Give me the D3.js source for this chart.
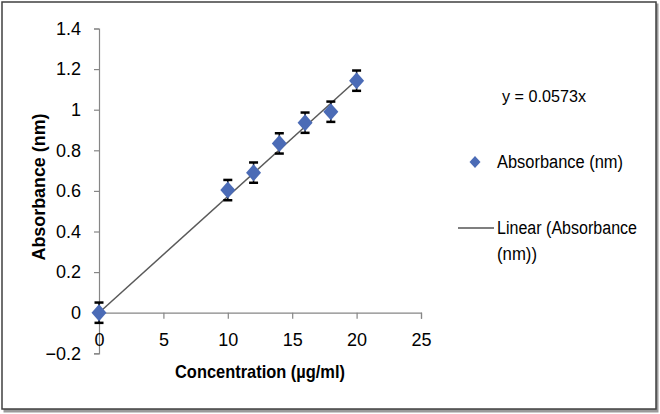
<!DOCTYPE html>
<html><head><meta charset="utf-8">
<script src="https://cdn.jsdelivr.net/npm/d3@7"></script>
<style>
html,body{margin:0;padding:0;background:#fff;}
svg{display:block;font-family:"Liberation Sans Narrow","Arial Narrow","Liberation Sans",sans-serif;}
</style></head>
<body>
<svg id="chart" width="660" height="414"></svg>
<script>
const concentration = [0, 10, 12, 14, 16, 18, 20];
const absorbance = [0, 0.604, 0.69, 0.834, 0.936, 0.99, 1.143];
const errorSize = [0.05, 0.05, 0.05, 0.05, 0.05, 0.05, 0.05];
const slope = 0.0573;
const xTicks = [0, 5, 10, 15, 20, 25];
const yTicks = [-0.2, 0, 0.2, 0.4, 0.6, 0.8, 1, 1.2, 1.4];
const seriesName = "Absorbance (nm)";
const trendName = ["Linear (Absorbance", "(nm))"];
const equation = "y = 0.0573x";
const xTitle = "Concentration (µg/ml)";
const yTitle = "Absorbance (nm)";

const svg = d3.select("#chart");
const x = d3.scaleLinear().domain([0, 25]).range([99, 421]);
const y = d3.scaleLinear().domain([-0.2, 1.4]).range([353.3, 28.5]);
const axisColor = "#868686";
const blue = "#4b6bb6";

// outer frame with shadow
svg.append("rect").attr("x", 3.5).attr("y", 3.5).attr("width", 655).attr("height", 409).attr("fill", "#9a9a9a");
svg.append("rect").attr("x", 2).attr("y", 2).attr("width", 654).attr("height", 407).attr("fill", "#fff").attr("stroke", "#404040").attr("stroke-width", 1.5);

// Y axis
const yAxis = svg.append("g").attr("transform", `translate(${x(0)},0)`)
  .call(d3.axisLeft(y).tickValues(yTicks).tickSize(5).tickPadding(13).tickFormat(d => d3.format("")(+d.toFixed(1))));
yAxis.select(".domain").attr("stroke", axisColor).attr("stroke-width", 1.2);
yAxis.selectAll(".tick line").attr("stroke", axisColor).attr("stroke-width", 1.2);
yAxis.selectAll(".tick text").attr("font-size", 18).attr("fill", "#000").attr("font-family", "inherit");

// X axis at y=0
const xAxis = svg.append("g").attr("transform", `translate(0,${y(0)})`)
  .call(d3.axisBottom(x).tickValues(xTicks).tickSize(6).tickPadding(15).tickSizeOuter(6));
xAxis.select(".domain").attr("stroke", axisColor).attr("stroke-width", 1.2);
xAxis.selectAll(".tick line").attr("stroke", axisColor).attr("stroke-width", 1.2);
xAxis.selectAll(".tick text").attr("font-size", 18).attr("fill", "#000").attr("font-family", "inherit");

// trend line
svg.append("line")
  .attr("x1", x(0)).attr("y1", y(0))
  .attr("x2", x(20)).attr("y2", y(slope * 20))
  .attr("stroke", "#5a5a5a").attr("stroke-width", 1.5);

// error bars
const eb = svg.append("g");
concentration.forEach((c, i) => {
  const top = y(absorbance[i] + errorSize[i]), bot = y(absorbance[i] - errorSize[i]);
  eb.append("line").attr("x1", x(c)).attr("x2", x(c)).attr("y1", top).attr("y2", bot).attr("stroke", "#000").attr("stroke-width", 1.5);
  [top, bot].forEach(v => eb.append("line").attr("x1", x(c) - 4.5).attr("x2", x(c) + 4.5).attr("y1", v).attr("y2", v).attr("stroke", "#000").attr("stroke-width", 2.5));
});

// markers
const diamond = (cx, cy, w, h) => `M${cx},${cy - h}L${cx + w},${cy}L${cx},${cy + h}L${cx - w},${cy}Z`;
svg.append("g").selectAll("path").data(concentration).join("path")
  .attr("d", (c, i) => diamond(x(c), y(absorbance[i]), 7.5, 8.5))
  .attr("fill", blue);

// axis titles
svg.append("text").attr("x", 260).attr("y", 378).attr("text-anchor", "middle")
  .attr("font-size", 19).attr("font-weight", "bold")
  .attr("textLength", 170).attr("lengthAdjust", "spacingAndGlyphs").text(xTitle);
svg.append("text").attr("transform", "translate(45,187) rotate(-90)").attr("text-anchor", "middle")
  .attr("font-size", 19).attr("font-weight", "bold")
  .attr("textLength", 147).attr("lengthAdjust", "spacingAndGlyphs").text(yTitle);

// equation + legend
svg.append("text").attr("x", 502).attr("y", 102).attr("font-size", 17)
  .attr("textLength", 84).attr("lengthAdjust", "spacingAndGlyphs").text(equation);
svg.append("path").attr("d", diamond(475, 162, 5.5, 6)).attr("fill", blue);
svg.append("text").attr("x", 497).attr("y", 168).attr("font-size", 18)
  .attr("textLength", 126).attr("lengthAdjust", "spacingAndGlyphs").text(seriesName);
svg.append("line").attr("x1", 458).attr("x2", 494).attr("y1", 228).attr("y2", 228).attr("stroke", "#000").attr("stroke-width", 1.2);
const trendWidths = [140, 40];
trendName.forEach((t, i) => svg.append("text").attr("x", 497).attr("y", 234 + i * 26).attr("font-size", 18)
  .attr("textLength", trendWidths[i]).attr("lengthAdjust", "spacingAndGlyphs").text(t));
</script>
</body></html>
